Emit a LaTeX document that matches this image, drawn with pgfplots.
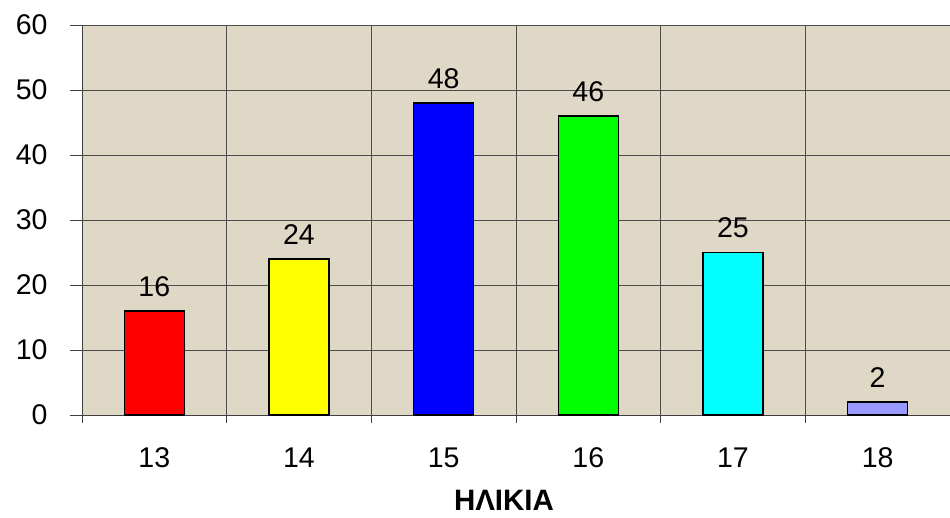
\documentclass[border=0pt]{standalone}
\usepackage{pgfplots}
\pgfplotsset{compat=1.18}
\usepackage{fontspec}
\setmainfont{Liberation Sans}
\definecolor{bgbeige}{RGB}{224,216,198}
\definecolor{barred}{RGB}{255,0,0}
\definecolor{baryellow}{RGB}{255,255,0}
\definecolor{barblue}{RGB}{0,0,255}
\definecolor{bargreen}{RGB}{0,255,0}
\definecolor{barcyan}{RGB}{0,255,255}
\definecolor{barpurple}{RGB}{153,153,255}
\begin{document}
\begin{tikzpicture}
\path[use as bounding box] (-82pt,-103pt) rectangle (868pt,415pt);
\begin{axis}[
  at={(0pt,0pt)}, anchor=south west,
  scale only axis, width=868pt, height=390pt,
  xmin=-0.5, xmax=5.5, ymin=0, ymax=60,
  ybar, bar width=60pt, bar shift=0pt,
  axis background/.style={fill=bgbeige},
  axis x line*=bottom, axis y line*=left,
  axis line style={black!75, line width=0.9pt},
  xtick={0,1,2,3,4,5},
  xticklabels={13,14,15,16,17,18},
  major x tick style={draw=none},
  minor xtick={-0.5,0.5,1.5,2.5,3.5,4.5,5.5},
  ytick={0,10,20,30,40,50,60},
  tick align=outside,
  tick style={black!75, line width=0.9pt},
  major tick length=12pt, minor tick length=8pt,
  ymajorgrids, xminorgrids,
  grid style={black!70, line width=0.8pt},
  minor grid style={black!70, line width=0.8pt},
  ticklabel style={font=\fontsize{28.5}{34}\selectfont},
  /pgf/number format/assume math mode=true,
  yticklabel style={xshift=-19pt},
  xticklabel style={yshift=-17pt},
  xlabel={\textbf{ΗΛΙΚΙΑ}},
  xlabel style={font=\fontsize{29.5}{35}\selectfont, inner sep=0pt, yshift=-19pt, xshift=-12pt},
  nodes near coords,
  every node near coord/.append style={font=\fontsize{28.5}{34}\selectfont, color=black, yshift=10.5pt},
  clip=false,
]
\addplot[fill=barred, draw=black, line width=1.3pt] coordinates {(0,16)};
\addplot[fill=baryellow, draw=black, line width=1.3pt] coordinates {(1,24)};
\addplot[fill=barblue, draw=black, line width=1.3pt] coordinates {(2,48)};
\addplot[fill=bargreen, draw=black, line width=1.3pt] coordinates {(3,46)};
\addplot[fill=barcyan, draw=black, line width=1.3pt] coordinates {(4,25)};
\addplot[fill=barpurple, draw=black, line width=1.3pt] coordinates {(5,2)};
\end{axis}
\end{tikzpicture}
\end{document}
